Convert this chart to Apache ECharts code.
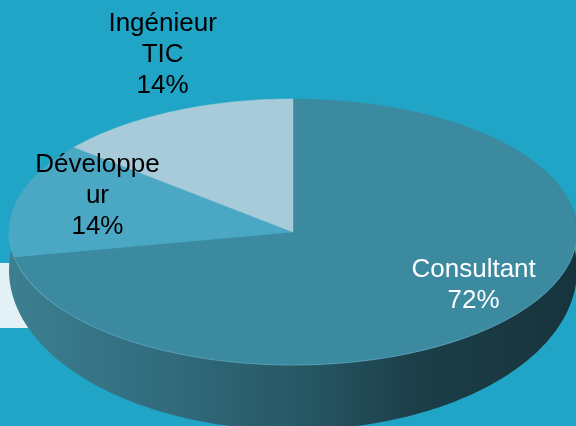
<!DOCTYPE html>
<html>
<head>
<meta charset="utf-8">
<script src="https://cdn.jsdelivr.net/npm/echarts@6/dist/echarts.min.js"></script>
<style>
  html, body { margin: 0; padding: 0; background: #21a5c6; }
  #chart { width: 576px; height: 426px; }
</style>
</head>
<body>
<div id="chart"></div>
<script>
// ---- data ----
const CATEGORIES = ['Consultant', 'Développeur', 'Ingénieur TIC'];
const LABEL_TEXT = ['Consultant', 'Développe\nur', 'Ingénieur\nTIC'];
const VALUES = [72, 14, 14];

// ---- style ----
const SLICE_COLORS = ['#3c8aa0', '#4ba8c4', '#a7cbd9'];
const LABEL_COLORS = ['#ffffff', '#000000', '#000000'];
// label placement: [radius factor, angle shift from slice middle]
const LABEL_AT = [[0.75, -7.6], [0.74, 7.1], [1.41, 6.2]];

// pie geometry (top face ellipse + bottom rim ellipse)
const TOP = { cx: 293, cy: 232, rx: 284, ry: 133 };
const BOT = { cx: 293, cy: 270, rx: 284, ry: 160 };

const total = VALUES.reduce((a, b) => a + b, 0);

function pt(deg, e) {
  const a = deg * Math.PI / 180;
  return [e.cx + e.rx * Math.sin(a), e.cy - e.ry * Math.cos(a)];
}

function arc(from, to, e) {
  const pts = [];
  const step = from <= to ? 1 : -1;
  for (let d = from; step > 0 ? d < to : d > to; d += step) pts.push(pt(d, e));
  pts.push(pt(to, e));
  return pts;
}

const sideGradient = new echarts.graphic.LinearGradient(9, 0, 577, 0, [
  { offset: 0, color: '#3c7f91' },
  { offset: 0.3, color: '#306a7b' },
  { offset: 0.55, color: '#255461' },
  { offset: 0.72, color: '#1c3e48' },
  { offset: 1, color: '#17343d' },
], true);

function renderSlice(params, api) {
  const i = params.dataIndex;
  let start = 0;
  for (let k = 0; k < i; k++) start += VALUES[k] / total * 360;
  const end = start + api.value(0) / total * 360;
  const children = [];

  // top face
  children.push({
    type: 'polygon',
    z2: 10,
    shape: { points: [[TOP.cx, TOP.cy]].concat(arc(start, end, TOP)) },
    style: { fill: SLICE_COLORS[i], stroke: SLICE_COLORS[i], lineWidth: 0.5 },
  });

  // front wall
  const s = Math.max(start, 80), e = Math.min(end, 280);
  if (s < e) {
    children.push({
      type: 'polygon',
      z2: 1,
      shape: { points: arc(s, e, TOP).concat(arc(e, s, BOT)) },
      style: { fill: sideGradient },
    });
    const hs = Math.max(start, 90), he = Math.min(end, 270);
    if (hs < he) {
      children.push({
        type: 'polyline',
        z2: 11,
        shape: { points: arc(hs, he, TOP) },
        style: { stroke: 'rgba(110,175,195,0.55)', lineWidth: 1, fill: null },
      });
    }
  }

  // label
  const mid = (start + end) / 2 + LABEL_AT[i][1];
  const r = LABEL_AT[i][0];
  const p = pt(mid, { cx: TOP.cx, cy: TOP.cy, rx: TOP.rx * r, ry: TOP.ry * r });
  children.push({
    type: 'text',
    z2: 20,
    x: p[0],
    y: p[1],
    style: {
      text: LABEL_TEXT[i] + '\n' + Math.round(api.value(0) / total * 100) + '%',
      fill: LABEL_COLORS[i],
      font: '26px "Liberation Sans", Arial, sans-serif',
      lineHeight: 31,
      align: 'center',
      verticalAlign: 'middle',
    },
  });

  return { type: 'group', children };
}

const chart = echarts.init(document.getElementById('chart'), null, { renderer: 'canvas' });
chart.setOption({
  backgroundColor: '#21a5c6',
  animation: false,
  graphic: [
    { type: 'rect', z: 0, shape: { x: 0, y: 263, width: 60, height: 65 }, style: { fill: '#e3f0f6' } },
  ],
  series: [{
    type: 'custom',
    coordinateSystem: 'none',
    z: 5,
    renderItem: renderSlice,
    data: VALUES.map((v, i) => ({ name: CATEGORIES[i], value: [v] })),
  }],
});
</script>
</body>
</html>
